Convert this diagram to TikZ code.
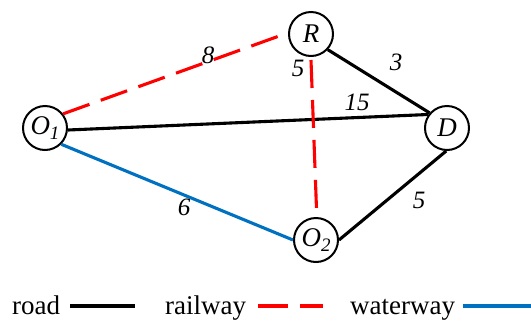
\documentclass[tikz,border=0pt]{standalone}
\usepackage{fontspec}
\setmainfont{Liberation Serif}
\begin{document}
\begin{tikzpicture}[x=1pt,y=-1pt,
  city/.style={circle,draw,line width=2pt,minimum size=44pt,inner sep=0pt,font=\fontsize{27}{29}\selectfont\itshape},
  road/.style={line width=3.1pt,black},
  rail/.style={line width=3.1pt,red,dash pattern=on 28pt off 12pt},
  water/.style={line width=3.1pt,color={rgb,255:red,0;green,112;blue,192}},
  wt/.style={font=\fontsize{25}{27}\selectfont\itshape,inner sep=0pt},
  lg/.style={font=\fontsize{27}{29}\selectfont,inner sep=0pt,anchor=base west}]
\useasboundingbox (0,0) rectangle (531,325);
\node[city] (O1) at (45,128) {O\raisebox{-5pt}{\fontsize{19}{21}\selectfont 1}};
\node[city] (R) at (311,34) {R};
\node[city] (D) at (447,128) {D};
\node[city] (O2) at (316,240) {O\raisebox{-5pt}{\fontsize{19}{21}\selectfont 2}};
\draw[rail] (O1.38) -- (R.177);
\draw[road] (R.-43) -- (D.139);
\draw[road] (O1.-5) -- (D.144);
\draw[rail] ([yshift=-3pt]R.-90) -- (O2.88);
\draw[water] (O1.-45) -- (O2.180);
\draw[road] (O2.0) -- (D.-92);
\node[wt] (l8) at (208,55) {8};
\node[wt] (l3) at (396,62) {3};
\node[wt] (l15) at (357,102) {15};
\node[wt] (l5a) at (298,68) {5};
\node[wt] (l6) at (184,207) {6};
\node[wt] (l5b) at (419,200) {5};
\node[lg] (troad) at (12,314) {road};
\coordinate (a1) at (70,306); \coordinate (a2) at (135,306);
\draw[road] (a1) -- (a2);
\node[lg] (trail) at (165,314) {railway};
\coordinate (b1) at (258,306); \coordinate (b2) at (323,306);
\draw[rail,dash pattern=on 30pt off 12pt] (b1) -- (b2);
\node[lg] (twater) at (350,314) {waterway};
\coordinate (c1) at (463,306); \coordinate (c2) at (531,306);
\draw[water] (c1) -- (c2);
\end{tikzpicture}
\end{document}
